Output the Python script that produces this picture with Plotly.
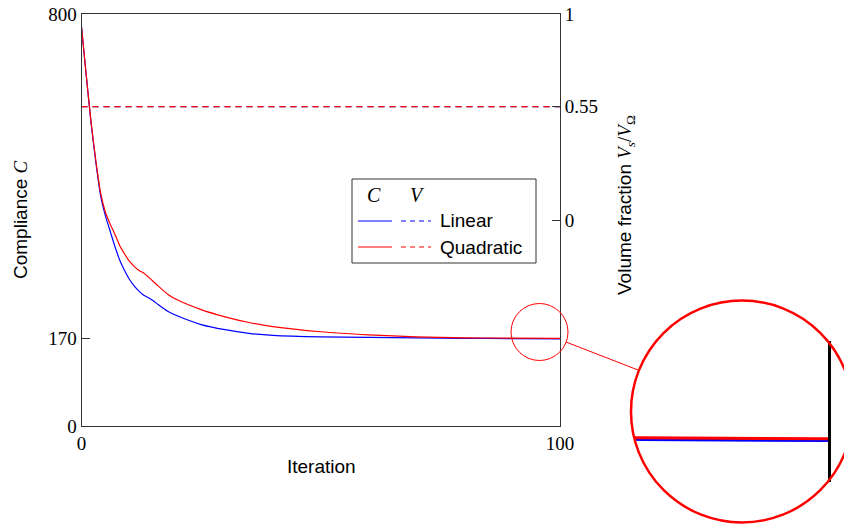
import plotly.graph_objects as go

# window is 852x526; the page body adds an 8px margin
OFF = 8
W, H = 852 - OFF, 526 - OFF

# ---- data ----
iter_linear = [0, 1, 2, 3, 4, 5, 6, 7, 8, 9, 10, 11, 12, 13, 14, 15, 16, 18, 20, 25, 30, 35, 40, 50, 60, 70, 80, 90, 100]
compliance_linear = [775, 680, 588, 512, 447, 408, 378, 348, 322, 302, 285, 272, 262, 254, 249, 243, 236, 223, 214, 197, 187, 180, 176, 173, 172, 171, 170.3, 169.8, 169.2]

iter_quadratic = [0, 1, 2, 3, 4, 5, 6, 7, 8, 9, 10, 11, 12, 13, 14, 16, 18, 20, 25, 30, 35, 40, 50, 60, 70, 80, 90, 100]
compliance_quadratic = [775, 680, 590, 515, 452, 415, 392, 372, 350, 334, 320, 310, 302, 297, 289, 272, 256, 245, 226, 212, 201, 193, 183, 177, 173, 171.2, 170.6, 170.1]

iter_volume = [0, 100]
volume_linear = [0.55, 0.55]
volume_quadratic = [0.55, 0.55]

left_ticks = [0, 170, 800]
right_ticks = [0, 0.55, 1]
right_ticktext = ["0", "0.55", "1"]
x_ticks = [0, 100]

SERIF = "Liberation Serif"
SANS = "Liberation Sans"
BLUE = "#0000ff"
RED = "#ff0000"
AXC = "#333333"


def px(x):
    """window pixel x -> paper fraction"""
    return (x - OFF) / W


def py(y):
    """window pixel y -> paper fraction"""
    return 1 - (y - OFF) / H


fig = go.Figure()

LS = dict(shape="spline", smoothing=0.5)

fig.add_trace(go.Scatter(x=iter_linear, y=compliance_linear, mode="lines",
                         line=dict(color=BLUE, width=1.2, **LS), name="Linear C",
                         xaxis="x", yaxis="y"))
fig.add_trace(go.Scatter(x=iter_quadratic, y=compliance_quadratic, mode="lines",
                         line=dict(color=RED, width=1.2, **LS), name="Quadratic C",
                         xaxis="x", yaxis="y"))
fig.add_trace(go.Scatter(x=iter_volume, y=volume_linear, mode="lines",
                         line=dict(color=BLUE, width=1.2, dash="6px,5px"), name="Linear V",
                         xaxis="x", yaxis="y2"))
fig.add_trace(go.Scatter(x=iter_volume, y=volume_quadratic, mode="lines",
                         line=dict(color=RED, width=1.2, dash="6px,5px"), name="Quadratic V",
                         xaxis="x", yaxis="y2"))
# inset (zoomed) curves
fig.add_trace(go.Scatter(x=iter_linear, y=compliance_linear, mode="lines",
                         line=dict(color=BLUE, width=3), xaxis="x2", yaxis="y3"))
fig.add_trace(go.Scatter(x=iter_quadratic, y=compliance_quadratic, mode="lines",
                         line=dict(color=RED, width=3), xaxis="x2", yaxis="y3"))

tickfont = dict(family=SERIF, size=19, color="black")

fig.update_layout(
    width=W, height=H,
    margin=dict(l=0, r=0, t=0, b=0),
    paper_bgcolor="white", plot_bgcolor="rgba(0,0,0,0)",
    showlegend=False,
    xaxis=dict(domain=[px(81.5), px(560)], range=[0, 100], tickvals=x_ticks,
               ticks="inside", ticklen=6, tickcolor=AXC, showline=True, mirror=True,
               linecolor=AXC, linewidth=1, showgrid=False, zeroline=False,
               tickfont=tickfont, anchor="y", automargin=False,
               ticklabeloverflow="allow"),
    yaxis=dict(domain=[py(426), py(14)], range=[0, 800], tickvals=left_ticks,
               ticks="inside", ticklen=8, tickcolor=AXC, showline=True,
               linecolor=AXC, linewidth=1, showgrid=False, zeroline=False,
               tickfont=tickfont, anchor="x", automargin=False,
               ticklabeloverflow="allow"),
    yaxis2=dict(overlaying="y", side="right", range=[-1, 1], tickvals=right_ticks,
                ticktext=right_ticktext, ticks="inside", ticklen=8, tickcolor=AXC,
                showline=True, linecolor=AXC, linewidth=1, showgrid=False,
                zeroline=False, tickfont=tickfont, anchor="x", automargin=False,
                ticklabeloverflow="allow"),
    xaxis2=dict(domain=[px(635), px(828)], range=[89.7, 100], anchor="y3",
                showline=False, showgrid=False, zeroline=False, ticks="",
                showticklabels=False, automargin=False),
    yaxis3=dict(domain=[py(482), py(341)], range=[148.5, 219], anchor="x2",
                side="right", showline=True, linecolor="black", linewidth=3,
                showgrid=False, zeroline=False, ticks="", showticklabels=False,
                automargin=False),
)

shapes = []
cx, cy, r = 539.5, 332, 28.5
shapes.append(dict(type="circle", xref="paper", yref="paper",
                   x0=px(cx - r), x1=px(cx + r), y0=py(cy + r), y1=py(cy - r),
                   line=dict(color=RED, width=1)))
cx, cy, r = 742, 411.5, 111
shapes.append(dict(type="circle", xref="paper", yref="paper",
                   x0=px(cx - r), x1=px(cx + r), y0=py(cy + r), y1=py(cy - r),
                   line=dict(color=RED, width=2.5)))
shapes.append(dict(type="line", xref="paper", yref="paper",
                   x0=px(566), y0=py(342), x1=px(638), y1=py(370),
                   line=dict(color=RED, width=1)))
shapes.append(dict(type="rect", xref="paper", yref="paper",
                   x0=px(352), x1=px(536), y0=py(263), y1=py(179),
                   line=dict(color=AXC, width=1), fillcolor="white", layer="above"))
legend_rows = [("Linear", BLUE, 221), ("Quadratic", RED, 247)]
for name, col, yy in legend_rows:
    shapes.append(dict(type="line", xref="paper", yref="paper",
                       x0=px(358), x1=px(392), y0=py(yy), y1=py(yy),
                       line=dict(color=col, width=1.2), layer="above"))
    shapes.append(dict(type="line", xref="paper", yref="paper",
                       x0=px(401), x1=px(431), y0=py(yy), y1=py(yy),
                       line=dict(color=col, width=1.2, dash="5px,4px"), layer="above"))
fig.update_layout(shapes=shapes)

ann = []
for name, col, yy in legend_rows:
    ann.append(dict(text=name, xref="paper", yref="paper", x=px(438), y=py(yy),
                    xanchor="left", yanchor="middle", showarrow=False,
                    font=dict(family=SANS, size=19, color="black")))
ann.append(dict(text="<i>C</i>", xref="paper", yref="paper", x=px(374), y=py(195),
                xanchor="center", yanchor="middle", showarrow=False,
                font=dict(family=SERIF, size=20, color="black")))
ann.append(dict(text="<i>V</i>", xref="paper", yref="paper", x=px(417), y=py(195),
                xanchor="center", yanchor="middle", showarrow=False,
                font=dict(family=SERIF, size=20, color="black")))
ann.append(dict(text="Iteration", xref="paper", yref="paper", x=px(321), y=py(466),
                xanchor="center", yanchor="middle", showarrow=False,
                font=dict(family=SANS, size=19, color="black")))
ann.append(dict(text="Compliance <span style=\"font-family:Liberation Serif\"><i>C</i></span>",
                xref="paper", yref="paper", x=px(20), y=py(220), textangle=-90,
                xanchor="center", yanchor="middle", showarrow=False,
                font=dict(family=SANS, size=19, color="black")))
ann.append(dict(text="Volume fraction <span style=\"font-family:Liberation Serif\"><i>V</i><sub><i>s</i></sub>/<i>V</i><sub>Ω</sub></span>",
                xref="paper", yref="paper", x=px(626), y=py(205), textangle=-90,
                xanchor="center", yanchor="middle", showarrow=False,
                font=dict(family=SANS, size=19, color="black")))
fig.update_layout(annotations=ann)

fig.write_html("out.html")
